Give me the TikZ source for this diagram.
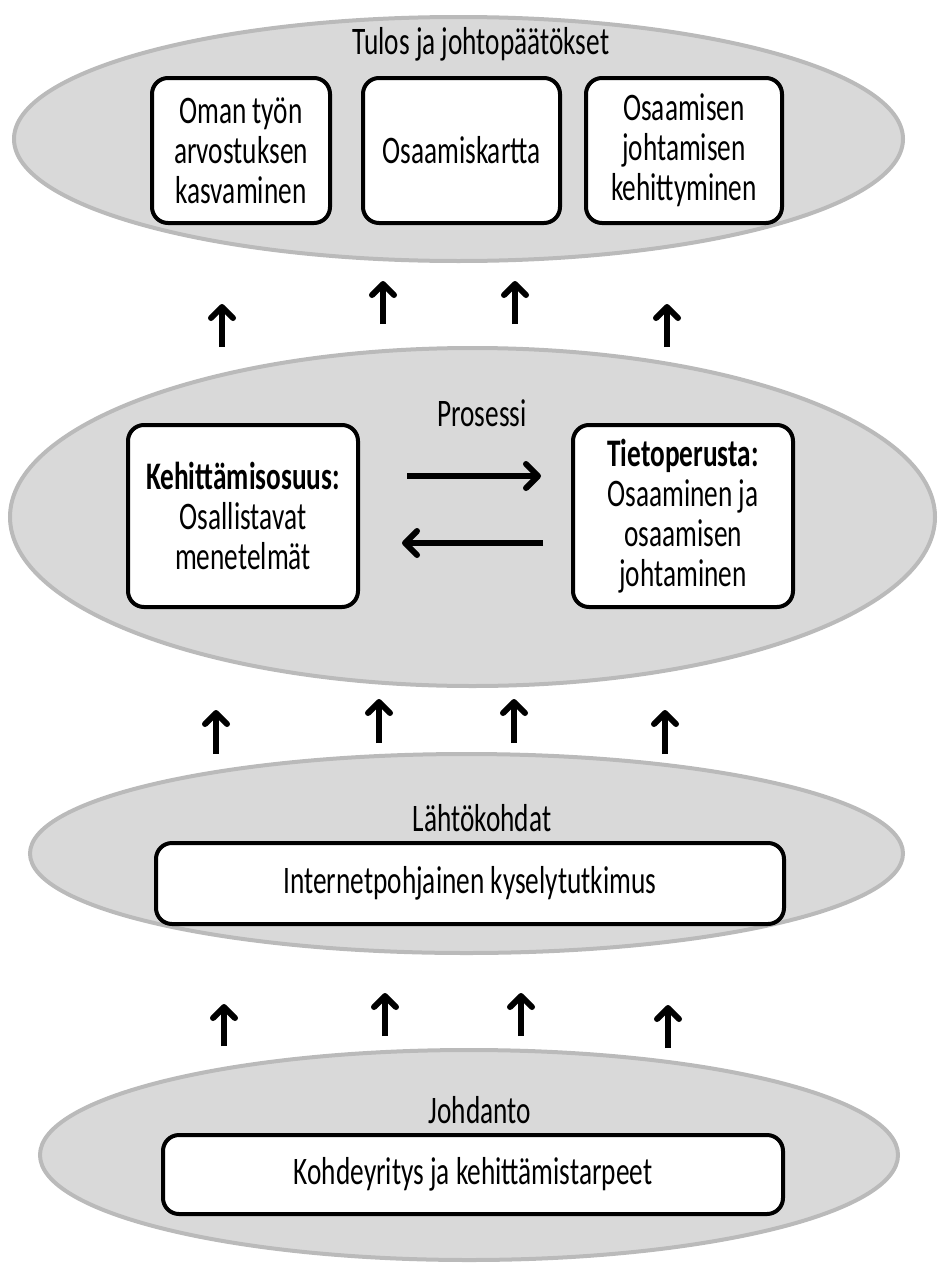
\documentclass[tikz,border=0pt]{standalone}
\usepackage{fontspec}
\setmainfont{Carlito}[FakeStretch=0.7]
\usetikzlibrary{shapes.geometric,arrows.meta}
\begin{document}
\begin{tikzpicture}[x=1pt,y=-1pt,
  layer/.style={ellipse, draw=black!27, fill=black!15, line width=4pt, inner sep=0pt},
  box/.style={draw=black, fill=white, line width=4pt, rounded corners=16pt, align=center, inner sep=0pt, font=\fontsize{39}{40}\selectfont},
  ttl/.style={font=\fontsize{39}{40}\selectfont, inner sep=0pt},
  uparrow/.style={line width=6pt, -{Straight Barb[length=11pt,width=22pt,round]}},
  sidearrow/.style={line width=6pt, -{Straight Barb[length=12pt,width=24pt,round]}},
]
\useasboundingbox (0,0) rectangle (943,1266);

% layers
\node[layer, minimum width=889pt, minimum height=244pt] (L1) at (458.5,139) {};
\node[layer, minimum width=925pt, minimum height=338pt] (L2) at (472.5,517) {};
\node[layer, minimum width=873pt, minimum height=199pt] (L3) at (466.5,853.5) {};
\node[layer, minimum width=858pt, minimum height=210pt] (L4) at (469,1155) {};

% titles
\node[ttl] (t1) at (481,44) {Tulos ja johtopäätökset};
\node[ttl] (t2) at (482,413) {Prosessi};
\node[ttl] (t3) at (482,818) {Lähtökohdat};
\node[ttl] (t4) at (480,1110) {Johdanto};

% top boxes
\node[box, minimum width=178pt, minimum height=145pt] (b11) at (241,150.5) {Oman työn\\arvostuksen\\kasvaminen};
\node[box, minimum width=197pt, minimum height=145pt] (b12) at (461.5,150.5) {Osaamiskartta};
\node[box, minimum width=196pt, minimum height=145pt] (b13) at (684,150.5) {Osaamisen\\johtamisen\\kehittyminen};

% process boxes
\node[box, minimum width=230pt, minimum height=182pt] (b21) at (243,516) {\textbf{Kehittämisosuus:}\\Osallistavat\\menetelmät};
\node[box, minimum width=220pt, minimum height=182pt] (b22) at (683,516) {\textbf{Tietoperusta:}\\Osaaminen ja\\osaamisen\\johtaminen};

% bottom boxes
\node[box, minimum width=628pt, minimum height=81pt] (b3) at (470,883.5) {Internetpohjainen kyselytutkimus};
\node[box, minimum width=620pt, minimum height=79pt] (b4) at (473,1174.5) {Kohdeyritys ja kehittämistarpeet};

% horizontal arrows
\coordinate (h1s) at (407,476); \coordinate (h1e) at (541,476);
\coordinate (h2s) at (543,543); \coordinate (h2e) at (402,543);
\draw[sidearrow] (h1s) -- (h1e);
\draw[sidearrow] (h2s) -- (h2e);

% up arrows row 1
\coordinate (a1s) at (222,347); \coordinate (a1e) at (222,304);
\coordinate (a2s) at (383,324); \coordinate (a2e) at (383,281);
\coordinate (a3s) at (515,324); \coordinate (a3e) at (515,281);
\coordinate (a4s) at (667,347); \coordinate (a4e) at (667,304);
% row 2
\coordinate (c1s) at (216,754); \coordinate (c1e) at (216,710);
\coordinate (c2s) at (379,743); \coordinate (c2e) at (379,699);
\coordinate (c3s) at (514,743); \coordinate (c3e) at (514,699);
\coordinate (c4s) at (665,754); \coordinate (c4e) at (665,710);
% row 3
\coordinate (d1s) at (224,1046); \coordinate (d1e) at (224,1004);
\coordinate (d2s) at (385,1036); \coordinate (d2e) at (385,993);
\coordinate (d3s) at (521,1036); \coordinate (d3e) at (521,993);
\coordinate (d4s) at (668,1048); \coordinate (d4e) at (668,1005);

\foreach \r in {a,c,d}{
  \foreach \i in {1,2,3,4}{
    \draw[uparrow] (\r\i s) -- (\r\i e);
  }
}
\end{tikzpicture}
\end{document}
